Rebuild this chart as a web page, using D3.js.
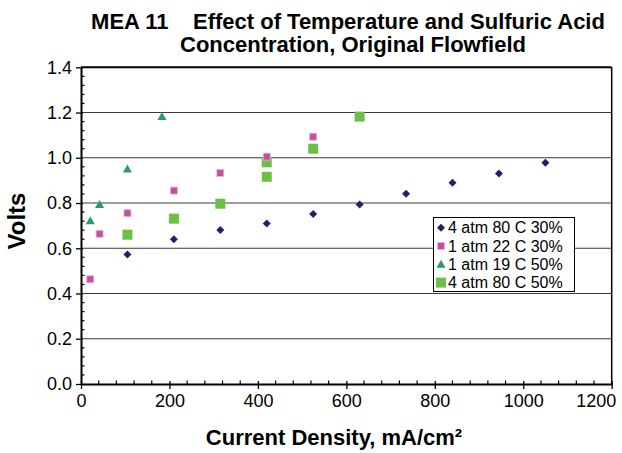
<!DOCTYPE html>
<html><head><meta charset="utf-8">
<script src="https://cdn.jsdelivr.net/npm/d3@7"></script>
<style>html,body{margin:0;padding:0;background:#fff}svg{display:block}</style>
</head><body>
<svg id="c" width="622" height="453"></svg>
<script>
const titleLines = ["MEA 11    Effect of Temperature and Sulfuric Acid", "Concentration, Original Flowfield"];
const xTitle = "Current Density, mA/cm²";
const yTitle = "Volts";
const xTicks = [0, 200, 400, 600, 800, 1000, 1200];
const yTicks = [0.0, 0.2, 0.4, 0.6, 0.8, 1.0, 1.2, 1.4];
const seriesNames = ["4 atm 80 C 30%", "1 atm 22 C 30%", "1 atm 19 C 50%", "4 atm 80 C 50%"];

const s1x = [105, 210, 315, 420, 525, 630, 735, 840, 945, 1050];
const s1y = [0.573, 0.640, 0.681, 0.710, 0.752, 0.793, 0.841, 0.890, 0.931, 0.978];
const s2x = [21, 42, 105, 210, 315, 420, 525];
const s2y = [0.463, 0.664, 0.755, 0.855, 0.933, 1.005, 1.093];
const s3x = [21, 42, 105, 183];
const s3y = [0.722, 0.793, 0.950, 1.182];
const s4x = [105, 210, 315, 420, 420, 525, 630];
const s4y = [0.660, 0.731, 0.797, 0.916, 0.980, 1.040, 1.182];

const svg = d3.select("#c");
svg.append("rect").attr("width", 622).attr("height", 453).attr("fill", "#fff");
const L = 81, R = 611.7, T = 67.3, B = 384;
const x = d3.scaleLinear().domain([0, 1200]).range([L, R]);
const y = d3.scaleLinear().domain([0, 1.4]).range([B, T]);
const font = "Liberation Sans, Arial, sans-serif";
const narrow = "Liberation Sans Narrow, Arial Narrow, sans-serif";

// gridlines
svg.append("g").selectAll("line").data(yTicks.filter(v => v > 0 && v < 1.4)).join("line")
  .attr("x1", L).attr("x2", R).attr("y1", d => y(d)).attr("y2", d => y(d))
  .attr("stroke", "#3a3a3a").attr("stroke-width", 1.1);

// borders
svg.append("line").attr("x1", L).attr("x2", R).attr("y1", T).attr("y2", T).attr("stroke", "#000").attr("stroke-width", 2);
svg.append("line").attr("x1", R).attr("x2", R).attr("y1", T).attr("y2", B).attr("stroke", "#000").attr("stroke-width", 1.5);

// minor ticks
const yMinor = d3.range(0, 1.4001, 0.04).filter(v => Math.abs(v / 0.2 - Math.round(v / 0.2)) > 0.01);
svg.append("g").selectAll("line").data(yMinor).join("line")
  .attr("x1", L).attr("x2", L + 3.5).attr("y1", d => y(d)).attr("y2", d => y(d))
  .attr("stroke", "#000").attr("stroke-width", 1.2);
const xMinor = d3.range(0, 1200.1, 40).filter(v => v % 200 !== 0);
svg.append("g").selectAll("line").data(xMinor).join("line")
  .attr("x1", d => x(d)).attr("x2", d => x(d)).attr("y1", B).attr("y2", B - 3.5)
  .attr("stroke", "#000").attr("stroke-width", 1.2);

// axes
const yAxis = d3.axisLeft(y).tickValues(yTicks).tickFormat(d3.format(".1f")).tickSizeInner(5).tickSizeOuter(0).tickPadding(4);
const gy = svg.append("g").attr("transform", `translate(${L},0)`).call(yAxis);
gy.select(".domain").attr("stroke", "#000").attr("stroke-width", 2);
gy.selectAll(".tick line").attr("stroke", "#000").attr("stroke-width", 1.3).attr("x2", -5).attr("x1", 2);
gy.selectAll(".tick text").attr("font-family", narrow).attr("font-size", 18).attr("fill", "#000");

const xAxis = d3.axisBottom(x).tickValues(xTicks).tickFormat(d3.format("d")).tickSizeInner(5).tickSizeOuter(0).tickPadding(5);
const gx = svg.append("g").attr("transform", `translate(0,${B})`).call(xAxis);
gx.select(".domain").attr("stroke", "#000").attr("stroke-width", 2);
gx.selectAll(".tick line").attr("stroke", "#000").attr("stroke-width", 1.3).attr("y1", -3).attr("y2", 5);
gx.selectAll(".tick text").attr("font-family", narrow).attr("font-size", 18).attr("fill", "#000");
gx.selectAll(".tick text").filter(d => d === 1200).attr("text-anchor", "end").attr("dx", 4);

// titles
const tt = svg.append("text").attr("font-family", font).attr("font-weight", "bold").attr("font-size", 22)
  .attr("text-anchor", "middle").attr("fill", "#000").style("white-space", "pre");
tt.append("tspan").attr("x", 348).attr("y", 29).text(titleLines[0]);
tt.append("tspan").attr("x", 353).attr("y", 52).text(titleLines[1]);

svg.append("text").attr("x", 334).attr("y", 445).attr("text-anchor", "middle")
  .attr("font-family", font).attr("font-weight", "bold").attr("font-size", 22).text(xTitle);
svg.append("text").attr("transform", "translate(25,221) rotate(-90)").attr("text-anchor", "middle")
  .attr("font-family", font).attr("font-weight", "bold").attr("font-size", 24).text(yTitle);

// markers
const colors = ["#20206e", "#c250a2", "#2e9a6c", "#6cc045"];
const pts = (xs, ys) => xs.map((v, i) => [v, ys[i]]);

function drawDiamond(g, cx, cy) {
  g.append("path").attr("d", `M${cx},${cy-4}L${cx+4},${cy}L${cx},${cy+4}L${cx-4},${cy}Z`).attr("fill", colors[0]);
}
function drawPink(g, cx, cy) {
  g.append("rect").attr("x", cx - 3.5).attr("y", cy - 3.5).attr("width", 7).attr("height", 7)
    .attr("fill", colors[1]).attr("stroke", "#e6b4d6").attr("stroke-width", 0.8);
}
function drawTri(g, cx, cy) {
  g.append("path").attr("d", `M${cx},${cy-4.5}L${cx+4.5},${cy+3.5}L${cx-4.5},${cy+3.5}Z`).attr("fill", colors[2]);
}
function drawGreen(g, cx, cy) {
  g.append("rect").attr("x", cx - 5).attr("y", cy - 5).attr("width", 10).attr("height", 10).attr("fill", colors[3]);
}
const drawers = [drawDiamond, drawPink, drawTri, drawGreen];

const gm = svg.append("g");
pts(s4x, s4y).forEach(p => drawGreen(gm, x(p[0]), y(p[1])));
pts(s3x, s3y).forEach(p => drawTri(gm, x(p[0]), y(p[1])));
pts(s2x, s2y).forEach(p => drawPink(gm, x(p[0]), y(p[1])));
pts(s1x, s1y).forEach(p => drawDiamond(gm, x(p[0]), y(p[1])));

// legend
const lg = svg.append("g");
lg.append("rect").attr("x", 433.5).attr("y", 217.5).attr("width", 141).attr("height", 74)
  .attr("fill", "#fff").attr("stroke", "#000").attr("stroke-width", 1);
const rowY = [227.7, 246, 264.3, 282.6];
seriesNames.forEach((n, i) => {
  drawers[i](lg, 441, rowY[i]);
  lg.append("text").attr("x", 448).attr("y", rowY[i] + 5.5).attr("font-family", font)
    .attr("font-size", 16).attr("fill", "#000").text(n);
});
</script>
</body></html>
